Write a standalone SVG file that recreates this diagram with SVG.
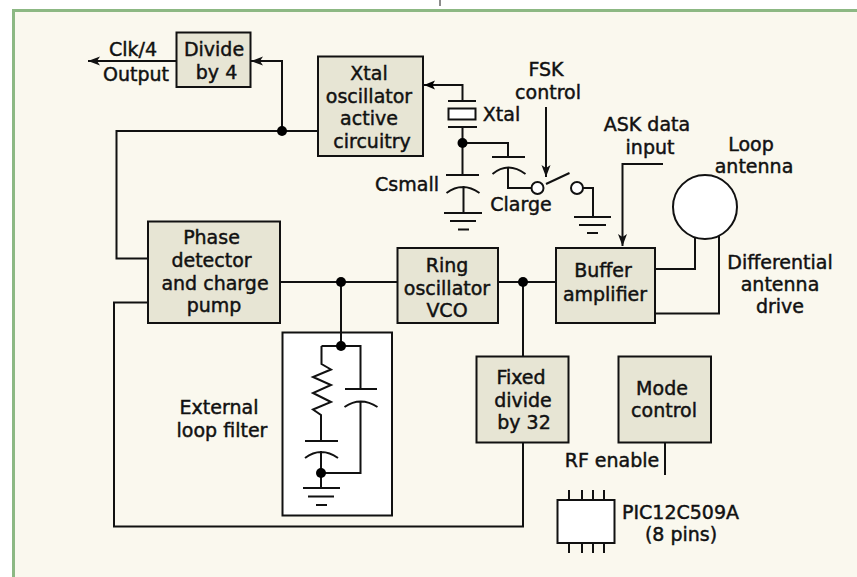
<svg xmlns="http://www.w3.org/2000/svg" width="857" height="577" viewBox="0 0 857 577">
<defs>
<marker id="ah" markerUnits="userSpaceOnUse" markerWidth="13" markerHeight="10" refX="12" refY="5" orient="auto"><path d="M0,.5 L12,5 L0,9.500 L3,5 Z" fill="#111"/></marker>
</defs>
<style>
.box{fill:#E7E5D4;stroke:#111;stroke-width:2}
.w{fill:none;stroke:#111;stroke-width:2}
.t{stroke:#111;stroke-width:2;fill:none}
.wb{fill:#fff;stroke:#111;stroke-width:2}
.d{fill:#000}
text{font-family:"DejaVu Sans",sans-serif;font-size:19px;fill:#111;stroke:#111;stroke-width:.45px;text-anchor:middle}
</style>
<rect x="0" y="0" width="857" height="577" fill="#fff"/>
<g id="frame"><rect x="13.500" y="10.500" width="843.500" height="566.500" fill="#FAF8EE"/><path d="M857,10.500 H13.500 V577" fill="none" stroke="#8CB883" stroke-width="3"/><path d="M440,0V6" stroke="#666" stroke-width="1.500"/></g>
<g id="node-filter"><rect class="wb" x="282.500" y="332.500" width="109.500" height="183"/>
<path class="t" d="M321.500,346 H360.500 V389 M360.500,402 V473 H321 M321.500,346 V364 L331,369.500 L313,377 L331,385 L313,393 L331,402 L313,409.500 L321,415 V441 M305,441 H338 M345,389 H377 M344.500,407 Q360.500,396 377.500,407 M305,458 Q321,446 338,458 M321,451 V488 M303,488 H340 M308,496.500 H334 M316,505 H327"/>
<text x="219" y="414">External</text><text x="222" y="437">loop filter</text></g>
<g id="connectors">
<path class="w" d="M176,61 H88" marker-end="url(#ah)"/>
<path class="w" d="M318,131 H116.500 V258.500 H148"/>
<path class="w" d="M282,131 V61 H251" marker-end="url(#ah)"/>
<path class="w" d="M280,282 H397"/>
<path class="w" d="M341,282 V346"/>
<path class="w" d="M498,282 H556"/>
<path class="w" d="M523,282 V357"/>
<path class="w" d="M523,443 V526.500 H114 V302.500 H148"/>
<path class="w" d="M656,269 H695 V238"/>
<path class="w" d="M656,313.500 H719 V236"/>
<path class="w" d="M424,85 H462.500 V101"/>
<path class="d" d="M424,85 L435,80.500 L432.500,85 L435,89.500 Z"/>
<path class="w" d="M462.500,127 V175"/>
<path class="w" d="M462.500,143 H508 V157"/>
<path class="w" d="M508,168 V188 H531"/>
<path class="w" d="M546,184 L569.500,173"/>
<path class="w" d="M578,188 H593 V217"/>
<path class="w" d="M546,107 V177" marker-end="url(#ah)"/>
<path class="w" d="M663,164 H622.500 V246" marker-end="url(#ah)"/>
<path class="w" d="M665,443 V475"/>
</g>
<g id="node-divide"><rect class="box" x="176.500" y="32.500" width="74" height="54.500"/><text x="214" y="56">Divide</text><text x="216.500" y="79">by 4</text></g>
<g id="node-clk"><text x="133" y="56">Clk/4</text><text x="136" y="81">Output</text></g>
<g id="node-xtalosc"><rect class="box" x="318" y="56.500" width="105" height="99.500"/><text x="369" y="80">Xtal</text><text x="369" y="103">oscillator</text><text x="369" y="125">active</text><text x="372" y="148">circuitry</text></g>
<g id="node-xtal"><path class="t" d="M448,101 H476 M448,127 H477"/><rect class="wb" x="448.500" y="108.500" width="27" height="11"/><text x="501.500" y="121">Xtal</text></g>
<g id="node-csmall"><path class="t" d="M446,175 H479 M446.500,193 Q462.500,181 479.500,193 M463.500,186 V213 M444,213 H482 M450,221 H476 M458,229.500 H469"/><text x="407" y="190.500">Csmall</text></g>
<g id="node-clarge"><path class="t" d="M492,157 H525 M492.500,174 Q508,161 525.500,174"/><text x="521" y="211">Clarge</text></g>
<g id="node-switch"><circle class="wb" cx="537.500" cy="188" r="6"/><circle class="wb" cx="577" cy="188" r="6"/><path class="t" d="M574,217 H611" stroke-width="2.500"/><path class="t" d="M579,225 H606 M587,233 H598"/></g>
<g id="node-fsk"><text x="546" y="76">FSK</text><text x="548" y="98.500">control</text></g>
<g id="node-ask"><text x="647" y="131">ASK data</text><text x="650" y="154">input</text></g>
<g id="node-loop"><circle class="wb" cx="705" cy="207" r="32"/><text x="751" y="150.500">Loop</text><text x="754" y="172.500">antenna</text></g>
<g id="node-diff"><text x="780" y="268.500">Differential</text><text x="780" y="291">antenna</text><text x="780" y="313">drive</text></g>
<g id="node-phase"><rect class="box" x="148" y="221.500" width="132" height="101.500"/><text x="211.500" y="244">Phase</text><text x="211.500" y="267">detector</text><text x="215" y="290">and charge</text><text x="214" y="312">pump</text></g>
<g id="node-ring"><rect class="box" x="397.500" y="248" width="100.500" height="75"/><text x="447" y="272">Ring</text><text x="447" y="295">oscillator</text><text x="447" y="317">VCO</text></g>
<g id="node-buffer"><rect class="box" x="556" y="248" width="99" height="75"/><text x="603" y="277">Buffer</text><text x="605" y="301">amplifier</text></g>
<g id="node-fixed"><rect class="box" x="476.500" y="356.500" width="92" height="86"/><text x="521" y="384">Fixed</text><text x="523" y="407">divide</text><text x="524" y="429">by 32</text></g>
<g id="node-mode"><rect class="box" x="618.500" y="356.500" width="92.500" height="86"/><text x="662" y="395">Mode</text><text x="664" y="417">control</text></g>
<g id="node-rf"><text x="612" y="467">RF enable</text></g>
<g id="node-ic"><rect class="wb" x="557.500" y="500" width="57" height="43"/><path class="t" d="M569,490 V500 M582,490 V500 M593,490 V500 M604,490 V500 M569,543 V553 M582,543 V553 M593,543 V553 M604,543 V553"/><text x="680.500" y="519">PIC12C509A</text><text x="681" y="541">(8 pins)</text></g>
<g id="junctions"><circle class="d" cx="282" cy="131" r="5"/><circle class="d" cx="341" cy="282" r="5"/><circle class="d" cx="523" cy="282" r="5"/><circle class="d" cx="462.500" cy="143" r="5"/><circle class="d" cx="341" cy="346" r="5"/><circle class="d" cx="321" cy="473" r="5"/></g>
</svg>
